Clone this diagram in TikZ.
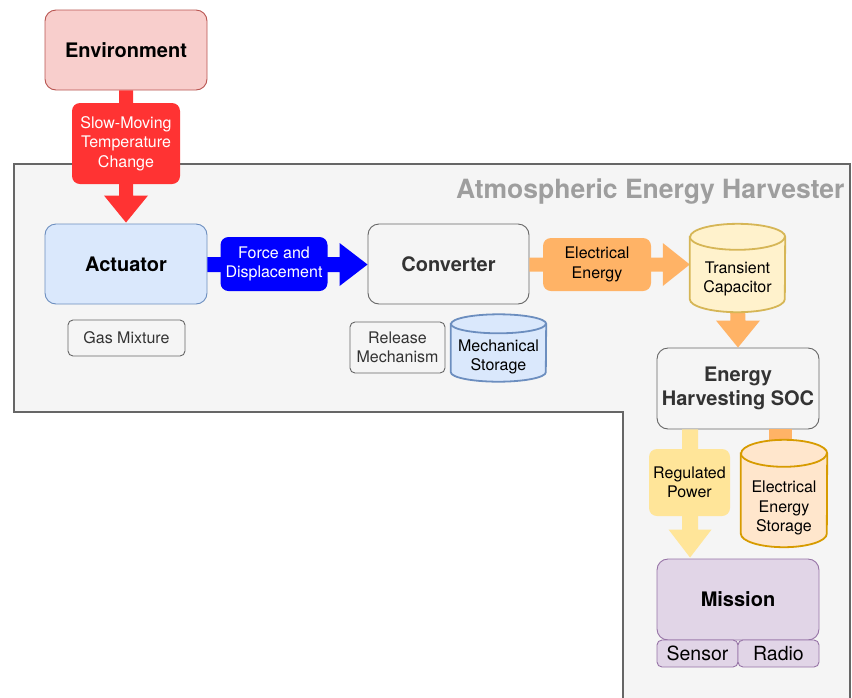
\documentclass[tikz,border=0pt]{standalone}
\usepackage{fontspec}
\setmainfont{TeX Gyre Heros}
\usetikzlibrary{calc}
\definecolor{envfill}{HTML}{F8CECC}
\definecolor{envdraw}{HTML}{B85450}
\definecolor{redarr}{HTML}{FF3333}
\definecolor{bluearr}{HTML}{0000FF}
\definecolor{orangearr}{HTML}{FFB366}
\definecolor{yellowarr}{HTML}{FFE599}
\definecolor{actfill}{HTML}{DAE8FC}
\definecolor{actdraw}{HTML}{6C8EBF}
\definecolor{grayfill}{HTML}{F5F5F5}
\definecolor{graydraw}{HTML}{666666}
\definecolor{graytext}{HTML}{333333}
\definecolor{titlegray}{HTML}{9E9E9E}
\definecolor{capfill}{HTML}{FFF2CC}
\definecolor{capdraw}{HTML}{D6B656}
\definecolor{eesfill}{HTML}{FFE6CC}
\definecolor{eesdraw}{HTML}{D79B00}
\definecolor{misfill}{HTML}{E1D5E7}
\definecolor{misdraw}{HTML}{9673A6}
\tikzset{
  bigbox/.style={draw, rounded corners=11pt, line width=0.9pt, minimum width=#1, minimum height=80pt, inner sep=0pt, align=center, font=\fontsize{20}{24.5}\selectfont\bfseries},
  lbl/.style={rounded corners=8pt, inner sep=0pt, align=center, font=\fontsize{16}{19.5}\selectfont},
  smallbox/.style={draw=graydraw, fill=grayfill, rounded corners=5pt, line width=0.9pt, inner sep=0pt, align=center, text=graytext, font=\fontsize{16}{19.5}\selectfont},
  cylbox/.style={inner sep=0pt},
  cyltext/.style={align=center, inner sep=0pt, font=\fontsize{16}{19.5}\selectfont},
}
% vertical block arrow: top point, tip point, colour, half shaft, half head, head length
\newcommand\blkdown[6]{%
  \fill[#3] ($#1+(-#4,0)$) -- ($#2+(-#4,-#6)$) -- ($#2+(-#5,-#6)$) -- #2 -- ($#2+(#5,-#6)$) -- ($#2+(#4,-#6)$) -- ($#1+(#4,0)$) -- cycle;}
\newcommand\blkright[6]{%
  \fill[#3] ($#1+(0,-#4)$) -- ($#2+(-#6,-#4)$) -- ($#2+(-#6,-#5)$) -- #2 -- ($#2+(-#6,#5)$) -- ($#2+(-#6,#4)$) -- ($#1+(0,#4)$) -- cycle;}
% cylinder around a node: name, ry, rx, fill, draw
\newcommand\cylaround[5]{%
  \path[fill=#4, draw=#5, line width=1.8pt] ($(#1.north west)+(0,#2)$) -- ($(#1.south west)+(0,-#2)$)
    arc[start angle=180, end angle=360, x radius=#3pt, y radius=#2pt]
    -- ($(#1.north east)+(0,#2)$)
    arc[start angle=0, end angle=180, x radius=#3pt, y radius=#2pt] -- cycle;
  \draw[draw=#5, line width=1.8pt] ($(#1.north west)+(0,#2)$)
    arc[start angle=180, end angle=360, x radius=#3pt, y radius=#2pt];}
\begin{document}
\begin{tikzpicture}[x=1pt, y=-1pt]
\useasboundingbox (0,0) rectangle (852,697);
% container
\path[fill=grayfill, draw=graydraw, line width=1.2pt] (14,164) -- (850,164) -- (850,700) -- (623,700) -- (623,412) -- (14,412) -- cycle;
\node[anchor=base east, text=titlegray, font=\fontsize{26.5}{30}\selectfont\bfseries] (title) at (848,198) {Atmospheric Energy Harvester};

% main boxes
\node[bigbox=162pt, fill=envfill, draw=envdraw] (env) at (126,50) {Environment};
\node[bigbox=162pt, fill=actfill, draw=actdraw] (act) at (126,264) {Actuator};
\node[bigbox=161pt, fill=grayfill, draw=graydraw, text=graytext] (conv) at (448.5,264) {Converter};
\node[bigbox=162pt, minimum height=81pt, fill=grayfill, draw=graydraw, text=graytext] (soc) at (738,388.5) {\raisebox{0pt}[0pt][0pt]{}Energy\\Harvesting SOC};
\node[bigbox=162pt, minimum height=81pt, fill=misfill, draw=misdraw] (mis) at (738,599.5) {Mission};

% cylinder anchors
\node[cylbox, minimum width=95pt, minimum height=88pt] (cap) at (737.5,268) {};
\node[cylbox, minimum width=95pt, minimum height=67pt] (mech) at (498.5,348) {};
\node[cylbox, minimum width=86pt, minimum height=107pt] (ees) at (784,493.5) {};

% arrows
\coordinate (redtip) at ($(act.north)+(0,-1)$);
\blkdown{(env.south)}{(redtip)}{redarr}{7}{22}{27}
\coordinate (bluestart) at ($(act.east)+(0,0.5)$);
\coordinate (bluetip) at ($(conv.west)+(0,0.5)$);
\blkright{(bluestart)}{(bluetip)}{bluearr}{7.5}{21.5}{28}
\coordinate (orstart) at ($(conv.east)+(0,0.5)$);
\coordinate (ortip) at ($(cap.west)+(0,-3.5)$);
\blkright{(orstart)}{(ortip)}{orangearr}{7}{21.5}{27}
\coordinate (captop) at ($(cap.south)+(0,-5)$);
\blkdown{(captop)}{(soc.north)}{orangearr}{7.5}{22}{27}
\coordinate (rptop) at ($(soc.south west)+(33.5,0)$);
\coordinate (rptip) at ($(mis.north west)+(33.5,-1)$);
\blkdown{(rptop)}{(rptip)}{yellowarr}{8}{21.5}{28}
\fill[orangearr] ($(soc.south)+(38.5,0)$) ++(-7.5,0) rectangle ($(ees.north)+(7.5,8)$);

% cylinders
\cylaround{cap}{13}{47.5}{capfill}{capdraw}
\cylaround{mech}{9.5}{47.5}{actfill}{actdraw}
\cylaround{ees}{13.5}{43}{eesfill}{eesdraw}
\node[cyltext] (captext) at ($(cap.center)+(0,11)$) {Transient\\Capacitor};
\node[cyltext] (mechtext) at ($(mech.center)+(0,9)$) {Mechanical\\Storage};
\node[cyltext] (eestext) at ($(ees.center)+(0,14.5)$) {Electrical\\Energy\\Storage};

% arrow labels
\node[lbl, fill=redarr, text=white, minimum width=108pt, minimum height=81pt] (rlab) at (126,143.5) {Slow-Moving\\Temperature\\Change};
\node[lbl, fill=bluearr, text=white, minimum width=107pt, minimum height=54pt] (blab) at (274,264) {Force and\\Displacement};
\node[lbl, fill=orangearr, minimum width=108pt, minimum height=53pt] (olab) at (597,264.5) {Electrical\\Energy};
\node[lbl, fill=yellowarr, minimum width=81pt, minimum height=67pt] (ylab) at (689.5,482.5) {Regulated\\Power};

% small boxes
\node[smallbox, minimum width=117pt, minimum height=36pt] (gas) at (126.5,338) {Gas Mixture};
\node[smallbox, minimum width=95pt, minimum height=51pt] (rel) at (397.5,347.5) {Release\\Mechanism};
\node[smallbox, fill=misfill, draw=misdraw, text=black, minimum width=81pt, minimum height=27pt, font=\fontsize{19.5}{21}\selectfont] (sens) at (697.5,653.5) {Sensor};
\node[smallbox, fill=misfill, draw=misdraw, text=black, minimum width=81pt, minimum height=27pt, font=\fontsize{19.5}{21}\selectfont] (radio) at (778.5,653.5) {Radio};
\end{tikzpicture}
\end{document}
